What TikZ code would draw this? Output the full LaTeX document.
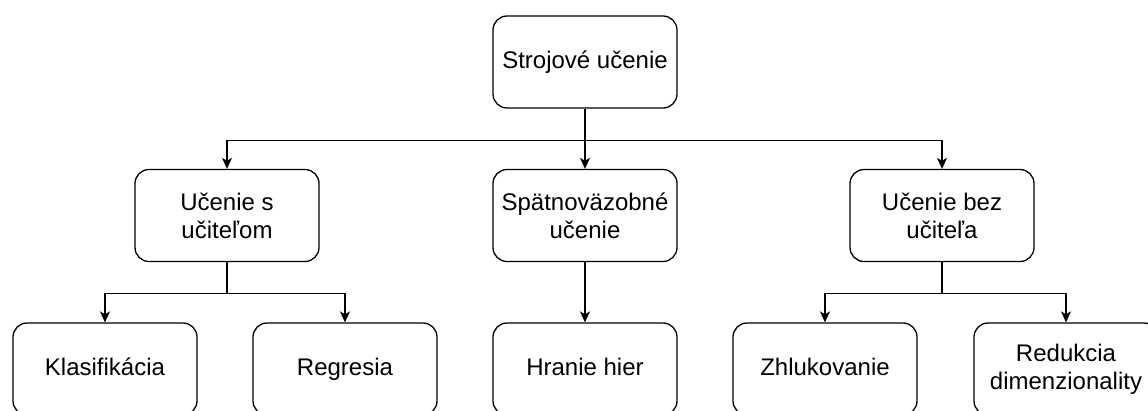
\documentclass[tikz,border=0pt]{standalone}
\usepackage{fontspec}
\setmainfont{Liberation Sans}
\usetikzlibrary{arrows.meta}
\begin{document}
\begin{tikzpicture}[x=1pt,y=-1pt,
  box/.style={draw, line width=1.3pt, rounded corners=14pt, minimum width=184pt, minimum height=92pt, align=center, font=\fontsize{24}{28}\selectfont, inner sep=0pt, text=black},
  one/.style={text height=17pt, text depth=5pt},
  conn/.style={line width=1.3pt, -{Stealth[length=11pt,width=10pt,inset=3pt]}},
  link/.style={line width=1.3pt}]
\clip (0,0) rectangle (1148,410);
\fill[white] (0,0) rectangle (1148,410);
\node[box,one] (root) at (585,62) {Strojové učenie};
\node[box] (sup) at (227,215.5) {Učenie s\\učiteľom};
\node[box] (rl) at (585,215.5) {Spätnoväzobné\\učenie};
\node[box] (uns) at (942,215.5) {Učenie bez\\učiteľa};
\node[box,one] (kla) at (105,369) {Klasifikácia};
\node[box,one] (reg) at (345,369) {Regresia};
\node[box,one] (hra) at (585,369) {Hranie hier};
\node[box,one] (zhl) at (825,369) {Zhlukovanie};
\node[box] (red) at (1066,369) {Redukcia\\dimenzionality};
\draw[conn] (root.south) -- ++(0,32) -| (sup.north);
\draw[conn] (root.south) -- (rl.north);
\draw[conn] (root.south) -- ++(0,32) -| (uns.north);
\draw[conn] (sup.south) -- ++(0,31) -| (kla.north);
\draw[conn] (sup.south) -- ++(0,31) -| (reg.north);
\draw[conn] (rl.south) -- (hra.north);
\draw[conn] (uns.south) -- ++(0,31) -| (zhl.north);
\draw[conn] (uns.south) -- ++(0,31) -| (red.north);
\end{tikzpicture}
\end{document}
